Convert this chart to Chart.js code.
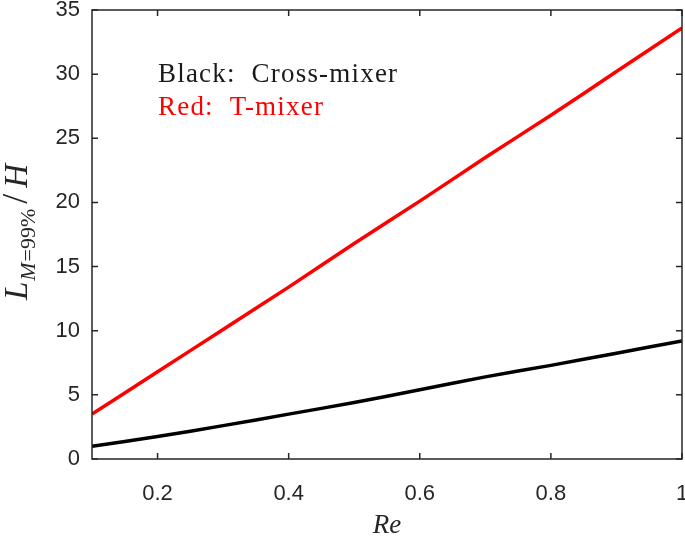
<!doctype html>
<html>
<head>
<meta charset="utf-8">
<title>Mixing length vs Re</title>
<script src="https://cdn.jsdelivr.net/npm/chart.js@4.4.1/dist/chart.umd.min.js"></script>
<style>
  html, body { margin: 0; padding: 0; background: #fff; }
  #wrap { width: 685px; height: 542px; position: relative; }
</style>
</head>
<body>
<div id="wrap"><canvas id="canvas"></canvas></div>
<script>
// values
const reValues    = [0.1, 0.2, 0.3, 0.4, 0.5, 0.6, 0.7, 0.8, 0.9, 1.0];
const crossMixer  = [1.0, 1.75, 2.6, 3.5, 4.4, 5.4, 6.4, 7.3, 8.25, 9.2];
const tMixer      = [3.5, 6.8, 10.1, 13.4, 16.8, 20.1, 23.5, 26.8, 30.2, 33.6];
const xTicks      = [0.2, 0.4, 0.6, 0.8, 1.0];
const yTicks      = [0, 5, 10, 15, 20, 25, 30, 35];

const axisColor = '#262626';

function toPoints(ys) {
  return reValues.map((x, i) => ({ x: x, y: ys[i] }));
}

// box + inward ticks (MATLAB style), axis titles and the text note
const framePlugin = {
  id: 'frame',
  afterDraw(chart) {
    const ctx = chart.ctx;
    const a = chart.chartArea;
    const xs = chart.scales.x, ys = chart.scales.y;
    const tl = 6;
    ctx.save();
    ctx.strokeStyle = axisColor;
    ctx.lineWidth = 1.5;
    ctx.strokeRect(a.left, a.top, a.right - a.left, a.bottom - a.top);
    ctx.beginPath();
    xTicks.forEach(v => {
      const px = xs.getPixelForValue(v);
      ctx.moveTo(px, a.bottom); ctx.lineTo(px, a.bottom - tl);
      ctx.moveTo(px, a.top); ctx.lineTo(px, a.top + tl);
    });
    yTicks.forEach(v => {
      const py = ys.getPixelForValue(v);
      ctx.moveTo(a.left, py); ctx.lineTo(a.left + tl, py);
      ctx.moveTo(a.right, py); ctx.lineTo(a.right - tl, py);
    });
    ctx.stroke();

    // x title
    ctx.fillStyle = axisColor;
    ctx.font = 'italic 27px "Liberation Serif"';
    ctx.textAlign = 'center';
    ctx.textBaseline = 'alphabetic';
    ctx.fillText('Re', (a.left + a.right) / 2, 533);

    // y title: L_{M=99%}/H, rotated
    const parts = [
      { t: 'L', f: 'italic 33px "Liberation Serif"', dy: 0, gap: 1 },
      { t: 'M', f: 'italic 22px "Liberation Serif"', dy: 8, gap: 1 },
      { t: '=99%', f: '22px "Liberation Serif"', dy: 8, gap: 5 },
      { t: '/', f: '36px "Liberation Serif"', dy: 0, gap: 6 },
      { t: 'H', f: 'italic 33px "Liberation Serif"', dy: 0, gap: 0 }
    ];
    let total = 0;
    parts.forEach(p => { ctx.font = p.f; p.w = ctx.measureText(p.t).width; total += p.w + p.gap; });
    ctx.translate(27, 232);
    ctx.rotate(-Math.PI / 2);
    ctx.textAlign = 'left';
    let cx = -total / 2;
    parts.forEach(p => {
      ctx.font = p.f;
      ctx.fillText(p.t, cx, p.dy);
      cx += p.w + p.gap;
    });
    ctx.restore();

    // note
    ctx.save();
    ctx.font = '27px "Liberation Serif"';
    ctx.letterSpacing = '1.2px';
    ctx.textAlign = 'left';
    ctx.textBaseline = 'alphabetic';
    ctx.fillStyle = '#1a1a1a';
    ctx.fillText('Black:  Cross-mixer', 158, 82);
    ctx.fillStyle = '#ff0000';
    ctx.fillText('Red:  T-mixer', 158, 115);
    ctx.restore();
  }
};

const ctx = document.getElementById('canvas');
new Chart(ctx, {
  type: 'line',
  data: {
    datasets: [
      {
        label: 'Cross-mixer',
        data: toPoints(crossMixer),
        borderColor: '#000000',
        backgroundColor: '#000000',
        borderWidth: 3.5,
        pointRadius: 0,
        tension: 0.3,
        fill: false
      },
      {
        label: 'T-mixer',
        data: toPoints(tMixer),
        borderColor: '#ff0000',
        backgroundColor: '#ff0000',
        borderWidth: 3.5,
        pointRadius: 0,
        tension: 0.3,
        fill: false
      }
    ]
  },
  options: {
    responsive: true,
    maintainAspectRatio: false,
    animation: false,
    layout: { padding: { top: 10, right: 3, left: 0, bottom: 0 } },
    plugins: {
      legend: { display: false },
      tooltip: { enabled: false }
    },
    scales: {
      x: {
        type: 'linear',
        min: 0.1,
        max: 1,
        afterBuildTicks(scale) { scale.ticks = xTicks.map(v => ({ value: v })); },
        afterFit(scale) {
          scale.height = 83;
          scale.paddingLeft = 0;
          scale.paddingRight = 0;
        },
        grid: { display: false, drawTicks: false },
        border: { display: false },
        ticks: {
          padding: 22,
          color: axisColor,
          font: { family: '"Liberation Sans", Arial', size: 22 },
          callback: v => String(+v.toFixed(1))
        }
      },
      y: {
        type: 'linear',
        min: 0,
        max: 35,
        afterBuildTicks(scale) { scale.ticks = yTicks.map(v => ({ value: v })); },
        afterFit(scale) {
          scale.width = 92;
          scale.paddingTop = 0;
          scale.paddingBottom = 0;
        },
        grid: { display: false, drawTicks: false },
        border: { display: false },
        ticks: {
          padding: 12,
          color: axisColor,
          font: { family: '"Liberation Sans", Arial', size: 22 }
        }
      }
    }
  },
  plugins: [framePlugin]
});
</script>
</body>
</html>
